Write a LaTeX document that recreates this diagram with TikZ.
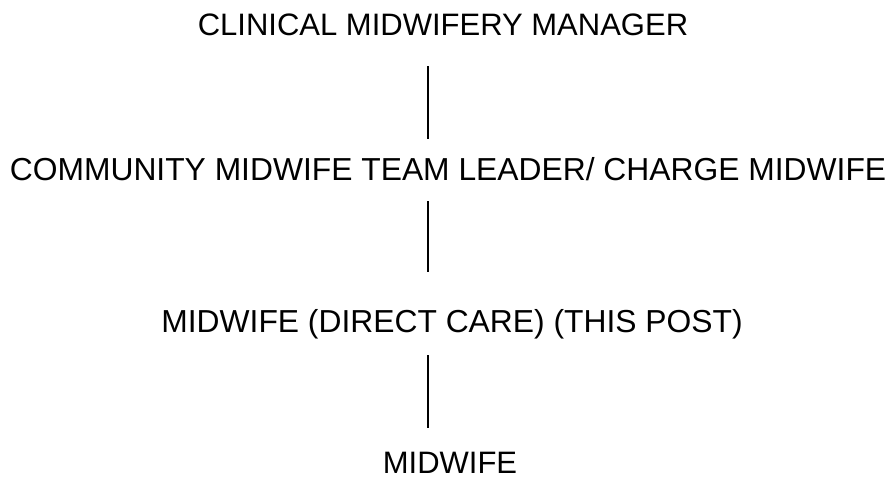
\documentclass[tikz,border=0pt]{standalone}
\usepackage{fontspec}
\setmainfont{Liberation Sans}
\usetikzlibrary{positioning,calc}
\tikzset{
    post/.style={
           font=\fontsize{31}{37}\selectfont,
           inner sep=0pt,
           anchor=base},
    widepost/.style={
           post,
           font=\fontsize{31.8}{38}\selectfont},
    link/.style={
           line width=1.6pt}
}

\begin{document}
\begin{tikzpicture}[x=1pt,y=-1pt]
        \useasboundingbox (0,0) rectangle (895,477);
        \coordinate (spine) at (428,0);
        \node[post] (mgr) at (443,35) {CLINICAL MIDWIFERY MANAGER};
        \node[widepost] (lead) at (448,180) {COMMUNITY MIDWIFE TEAM LEADER/ CHARGE MIDWIFE};
        \node[widepost] (mw) at (452,332) {MIDWIFE (DIRECT CARE) (THIS POST)};
        \node[post] (staff) at (450,473) {MIDWIFE};

        \draw[link] ($(mgr.base -| spine)+(0,31)$) -- ($(lead.base -| spine)+(0,-41)$);
        \draw[link] ($(lead.base -| spine)+(0,21)$) -- ($(mw.base -| spine)+(0,-60)$);
        \draw[link] ($(mw.base -| spine)+(0,23)$) -- ($(staff.base -| spine)+(0,-45)$);
\end{tikzpicture}
\end{document}
